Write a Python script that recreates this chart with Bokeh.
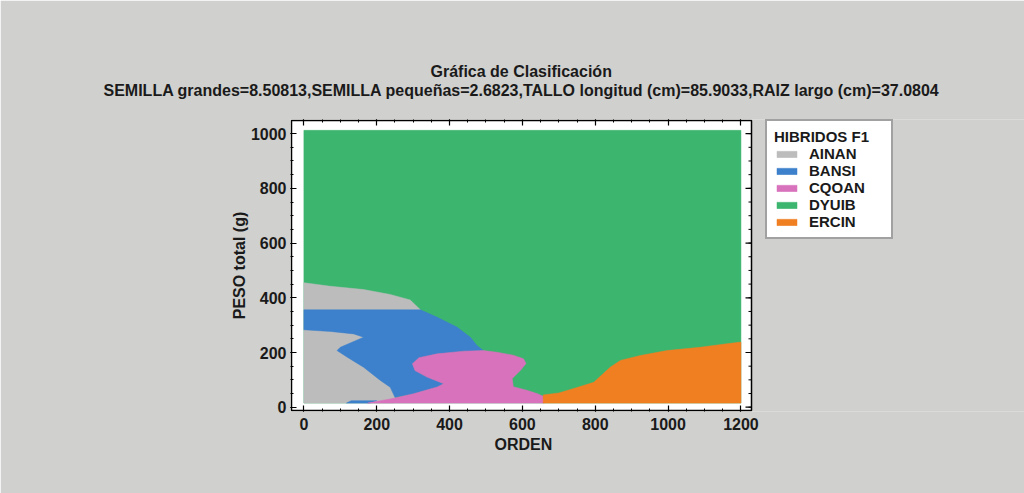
from bokeh.plotting import figure
from bokeh.models import Range1d, LinearAxis, Title, Legend, LegendItem, FixedTicker
from bokeh.embed import file_html
from bokeh.resources import INLINE

# ---------------- data ----------------
classes = ["AINAN", "BANSI", "CQOAN", "DYUIB", "ERCIN"]
colors = ["#bcbcbc", "#3d80cc", "#d972bd", "#3cb56f", "#f07f22"]

# grid extent of the classification map
grid_x = [0, 1200]
grid_y = [15, 1012]

# region boundaries (ORDEN, PESO total)
ainan_x = [0, 0, 73, 164, 237, 292, 320, 250, 246]
ainan_y = [15, 455, 442, 430, 412, 392, 356, 36, 15]

bansi_x = [0, 0, 320, 366, 420, 457, 475, 493, 439, 366, 316, 298, 305, 338, 384,
           366, 301, 250, 237, 210, 164, 119, 91, 100, 164, 137, 73]
bansi_y = [283, 356, 356, 329, 293, 256, 226, 207, 205, 195, 181, 159, 134, 110, 86,
           74, 49, 36, 73, 98, 146, 183, 207, 219, 256, 268, 277]
bansi2_x = [117, 181, 200, 130]
bansi2_y = [15, 15, 24, 24]

cqoan_x = [175, 237, 301, 366, 384, 338, 305, 298, 316, 366, 439, 493, 530, 575, 603,
           610, 595, 572, 575, 612, 640, 657, 660]
cqoan_y = [15, 30, 49, 74, 86, 110, 134, 159, 181, 195, 205, 207, 201, 190, 177,
           160, 135, 105, 75, 62, 50, 40, 15]

ercin_x = [657, 657, 700, 750, 796, 841, 869, 924, 997, 1088, 1162, 1200, 1200]
ercin_y = [15, 45, 52, 72, 91, 146, 171, 189, 207, 219, 232, 238, 15]

x_ticks = [0, 200, 400, 600, 800, 1000, 1200]
y_ticks = [0, 200, 400, 600, 800, 1000]
x_minor = list(range(0, 1201, 50))
y_minor = list(range(0, 1001, 50))

# axis box limits of the chart
box_x = [-34, 1229]
box_y = [-12, 1048]

title_text = "Gráfica de Clasificación"
subtitle_text = ("SEMILLA grandes=8.50813,SEMILLA pequeñas=2.6823,"
                 "TALLO longitud (cm)=85.9033,RAIZ largo (cm)=37.0804")
x_label = "ORDEN"
y_label = "PESO total (g)"
legend_title = "HIBRIDOS F1"

# ---------------- geometry ----------------
FONT = "Liberation Sans"
BG = "#d0d0ce"
TXT = "#1a1a1a"

W, H = 1024, 493
BOX_W, BOX_H = 460, 290          # pixel size of the axis box
LEFT, TOP, BOTTOM = 290, 119, 82  # borders around the frame
FRAME_W = W - LEFT
FRAME_H = H - TOP - BOTTOM
ppu_x = BOX_W / (box_x[1] - box_x[0])
ppu_y = BOX_H / (box_y[1] - box_y[0])
x0 = box_x[0] - 1 / ppu_x
y0 = box_y[0] - 1 / ppu_y
x_rng = Range1d(x0, x0 + FRAME_W / ppu_x)
y_rng = Range1d(y0, y0 + FRAME_H / ppu_y)

p = figure(width=W, height=H, output_backend="svg", toolbar_location=None,
           x_range=x_rng, y_range=y_rng,
           min_border_left=LEFT, min_border_right=0,
           min_border_top=TOP, min_border_bottom=BOTTOM,
           title=title_text)
p.background_fill_color = BG
p.border_fill_color = BG
p.outline_line_color = None
p.grid.visible = False

# white axis box
p.quad(left=[box_x[0]], right=[box_x[1]], bottom=[box_y[0]], top=[box_y[1]],
       fill_color="white", line_color="black", line_width=1.5)

# regions
rect_x = [grid_x[0], grid_x[1], grid_x[1], grid_x[0]]
rect_y = [grid_y[0], grid_y[0], grid_y[1], grid_y[1]]
r_d = p.patches(xs=[rect_x], ys=[rect_y], fill_color=colors[3], line_color=colors[3], line_width=0.5)
r_a = p.patches(xs=[ainan_x], ys=[ainan_y], fill_color=colors[0], line_color=colors[0], line_width=0.5)
r_b = p.patches(xs=[bansi_x, bansi2_x], ys=[bansi_y, bansi2_y], fill_color=colors[1], line_color=colors[1], line_width=0.5)
r_c = p.patches(xs=[cqoan_x], ys=[cqoan_y], fill_color=colors[2], line_color=colors[2], line_width=0.5)
r_e = p.patches(xs=[ercin_x], ys=[ercin_y], fill_color=colors[4], line_color=colors[4], line_width=0.5)

# right-hand inward ticks of the box
p.segment(x0=[box_x[1]] * len(y_ticks), x1=[box_x[1] - 6 / ppu_x] * len(y_ticks),
          y0=y_ticks, y1=y_ticks, line_color="black", line_width=1.2)
p.segment(x0=[box_x[1]] * len(y_minor), x1=[box_x[1] - 3 / ppu_x] * len(y_minor),
          y0=y_minor, y1=y_minor, line_color="black", line_width=1)


def style_axis(ax, labels=True):
    ax.axis_line_color = None
    ax.major_tick_in = 6
    ax.major_tick_out = 0
    ax.minor_tick_in = 3
    ax.minor_tick_out = 0
    ax.major_tick_line_color = "black"
    ax.minor_tick_line_color = "black"
    ax.major_tick_line_width = 1.2
    ax.minor_tick_line_width = 1
    if labels:
        ax.major_label_text_font = FONT
        ax.major_label_text_font_style = "bold"
        ax.major_label_text_font_size = "16px"
        ax.major_label_text_color = TXT
        ax.axis_label_text_font = FONT
        ax.axis_label_text_font_style = "bold"
        ax.axis_label_text_font_size = "16px"
        ax.axis_label_text_color = TXT
    else:
        ax.major_label_text_color = None


p.xaxis.ticker = FixedTicker(ticks=x_ticks, minor_ticks=x_minor)
p.yaxis.ticker = FixedTicker(ticks=y_ticks, minor_ticks=y_minor)
style_axis(p.xaxis[0])
style_axis(p.yaxis[0])
p.xaxis.major_label_standoff = 6
p.yaxis.major_label_standoff = 4
p.yaxis.axis_label = y_label
p.yaxis.axis_label_standoff = 0

# top ticks of the box
ax_top = LinearAxis(ticker=FixedTicker(ticks=x_ticks, minor_ticks=x_minor))
style_axis(ax_top, labels=False)
p.add_layout(ax_top, "above")
# invisible spacer between the box and the titles
ax_gap = LinearAxis(ticker=FixedTicker(ticks=x_ticks, minor_ticks=[]))
ax_gap.axis_line_color = None
ax_gap.major_tick_line_color = None
ax_gap.minor_tick_line_color = None
ax_gap.major_label_text_color = None
ax_gap.major_tick_in = 0
ax_gap.major_tick_out = 21
p.add_layout(ax_gap, "above")

# titles (centred over the axis box)
sub = Title(text=subtitle_text, align="left", offset=-187, text_font=FONT,
            text_font_style="bold", text_font_size="16px", text_color=TXT, standoff=0)
p.add_layout(sub, "above")
p.title.align = "left"
p.title.offset = 140
p.title.text_font = FONT
p.title.text_font_style = "bold"
p.title.text_font_size = "16px"
p.title.text_color = TXT
p.title.standoff = 0

xlab = Title(text=x_label, align="left", offset=204, text_font=FONT,
             text_font_style="bold", text_font_size="16px", text_color=TXT, standoff=2)
p.add_layout(xlab, "below")

# legend
legend = Legend(items=[LegendItem(label=classes[0], renderers=[r_a]),
                       LegendItem(label=classes[1], renderers=[r_b]),
                       LegendItem(label=classes[2], renderers=[r_c]),
                       LegendItem(label=classes[3], renderers=[r_d]),
                       LegendItem(label=classes[4], renderers=[r_e])],
                title=legend_title, location=(475, 172))
legend.margin = 0
legend.padding = 7
legend.spacing = 0
legend.label_height = 14
legend.label_width = 75
legend.glyph_height = 8
legend.glyph_width = 25
legend.label_standoff = 10
legend.label_text_font = FONT
legend.label_text_font_style = "bold"
legend.label_text_font_size = "15px"
legend.label_text_color = TXT
legend.title_text_font = FONT
legend.title_text_font_style = "bold"
legend.title_text_font_size = "15px"
legend.title_text_color = TXT
legend.title_standoff = 0
legend.border_line_color = "#444444"
legend.border_line_width = 2
legend.background_fill_color = "white"
legend.background_fill_alpha = 1
p.add_layout(legend, "center")

open("out.html", "w").write(file_html(p, INLINE))
